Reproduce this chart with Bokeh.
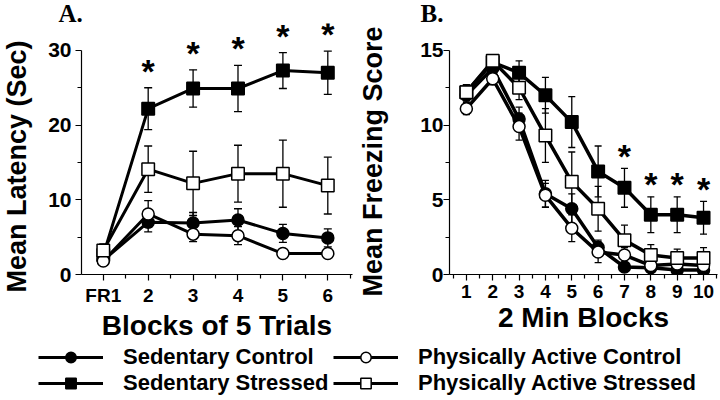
from bokeh.plotting import figure
from bokeh.models import (ColumnDataSource, Whisker, TeeHead, FixedTicker, Title,
                          Legend, LegendItem, Range1d)
from bokeh.layouts import column, row
from bokeh.embed import file_html
from bokeh.resources import INLINE
from bokeh.core.properties import value

# ---------------- data ----------------
# Panel A: Mean latency (sec) per block of 5 trials
A_x = [1, 2, 3, 4, 5, 6]
A_tick_labels = ["FR1", "2", "3", "4", "5", "6"]
A_sed_ctrl = [1.9, 7.0, 6.9, 7.3, 5.5, 4.9]
A_sed_ctrl_err = [0.3, 1.3, 1.4, 1.5, 1.2, 1.2]
A_act_ctrl = [1.8, 8.1, 5.4, 5.2, 2.8, 2.8]
A_act_ctrl_err = [0.3, 1.8, 1.0, 1.2, 0.3, 0.3]
A_sed_str = [2.6, 22.2, 24.9, 24.9, 27.3, 27.0]
A_sed_str_err = [0.5, 2.8, 2.5, 3.1, 2.4, 2.9]
A_act_str = [3.2, 14.1, 12.2, 13.5, 13.5, 11.9]
A_act_str_err = [0.9, 3.1, 4.3, 3.8, 4.5, 3.8]
A_star_x = [2, 3, 4, 5, 6]

# Panel B: Mean freezing score per 2 min block
B_x = [1, 2, 3, 4, 5, 6, 7, 8, 9, 10]
B_sed_ctrl = [12.0, 13.8, 10.4, 5.4, 4.4, 1.8, 0.5, 0.45, 0.3, 0.3]
B_sed_ctrl_err = [0.4, 0.4, 0.8, 0.9, 1.0, 0.5, 0.3, 0.3, 0.2, 0.2]
B_act_ctrl = [11.1, 13.1, 9.9, 5.3, 3.1, 1.5, 1.3, 0.6, 0.7, 0.6]
B_act_ctrl_err = [0.4, 0.4, 0.9, 0.8, 0.9, 0.7, 0.5, 0.3, 0.3, 0.3]
B_sed_str = [12.2, 14.2, 13.5, 12.0, 10.2, 6.9, 5.8, 4.0, 4.0, 3.8]
B_sed_str_err = [0.5, 0.4, 0.8, 1.2, 1.7, 1.7, 1.3, 1.2, 1.2, 1.1]
B_act_str = [12.2, 14.3, 12.5, 9.3, 6.2, 4.4, 2.3, 1.3, 1.1, 1.1]
B_act_str_err = [0.5, 0.4, 0.8, 1.8, 2.0, 1.5, 1.0, 0.7, 0.6, 0.7]
B_star_x = [7, 8, 9, 10]

SERIES_NAMES = ["Sedentary Control", "Sedentary Stressed",
                "Physically Active Control", "Physically Active Stressed"]

FONT = "Liberation Sans"
FIG_H = 343
TOP = 22
FRAME_H = 252
BOTTOM = FIG_H - TOP - FRAME_H
A_PPU = 7.5
B_PPU = 15.0

# ---------------- helpers ----------------
def style_axes(p, xlabel, xt, xminor, yt, yminor, ybounds, ystandoff_lab, ygap,
               xstandoff_lab, xstandoff_title):
    p.grid.visible = False
    p.outline_line_color = None
    p.background_fill_color = "white"
    p.border_fill_color = "white"
    for ax in (p.xaxis[0], p.yaxis[0]):
        ax.axis_line_color = "black"
        ax.axis_line_width = 1.2
        ax.major_tick_line_color = "black"
        ax.minor_tick_line_color = "black"
        ax.major_tick_line_width = 1.2
        ax.minor_tick_line_width = 1.2
        ax.major_tick_in = 0
        ax.major_tick_out = 6
        ax.minor_tick_in = 0
        ax.minor_tick_out = 4
        ax.major_label_text_font = FONT
        ax.major_label_text_font_style = "bold"
        ax.major_label_text_color = "black"
        ax.axis_label_text_font = FONT
        ax.axis_label_text_font_style = "bold"
        ax.axis_label_text_color = "black"
    p.xaxis.ticker = FixedTicker(ticks=xt, minor_ticks=xminor)
    p.yaxis.ticker = FixedTicker(ticks=yt, minor_ticks=yminor)
    p.yaxis.bounds = ybounds
    p.xaxis.axis_label = xlabel
    p.xaxis.axis_label_text_font_size = "28px"
    p.xaxis.major_label_text_font_size = "19px"
    p.yaxis.major_label_text_font_size = "21px"
    p.yaxis.major_label_standoff = ystandoff_lab
    # blank spacer between tick labels and the rotated y title
    p.yaxis.axis_label = " "
    p.yaxis.axis_label_text_font_size = "1px"
    p.yaxis.axis_label_standoff = ygap
    p.xaxis.major_label_standoff = xstandoff_lab
    p.xaxis.axis_label_standoff = xstandoff_title


def add_series(p, x, means, errs, cap):
    lo = [m - e for m, e in zip(means, errs)]
    hi = [m + e for m, e in zip(means, errs)]
    src = ColumnDataSource(dict(x=x, lo=lo, hi=hi))
    w = Whisker(source=src, base="x", lower="lo", upper="hi",
                line_color="black", line_width=1.3,
                upper_head=TeeHead(size=cap, line_color="black", line_width=1.3),
                lower_head=TeeHead(size=cap, line_color="black", line_width=1.3))
    p.add_layout(w)


def draw_panel(p, x, series, lw, cap):
    for means, errs, *_ in series:
        add_series(p, x, means, errs, cap)
    for means, errs, *_ in series:
        p.line(x, means, line_color="black", line_width=lw)
    for means, errs, marker, fill, size in series:
        p.scatter(x, means, marker=marker, size=size, fill_color=fill,
                  line_color="black", line_width=1.5)


def panel_title(text, offset):
    return Title(text=text, align="left", offset=offset, standoff=-6,
                 text_font="Liberation Serif", text_font_style="bold",
                 text_font_size="25px", text_color="black")


def y_title(text, offset, standoff):
    return Title(text=text, align="left", vertical_align="bottom", offset=offset,
                 standoff=standoff, text_font=FONT, text_font_style="bold",
                 text_font_size="27px", text_color="black")


def add_stars(p, xs, xall, means, errs, ppu, px):
    ys = [means[xall.index(s)] + errs[xall.index(s)] + px / ppu for s in xs]
    p.text(xs, ys, text=["*"] * len(xs), text_font=value(FONT),
           text_font_style="bold", text_font_size="34px", text_align="center",
           text_baseline="alphabetic", text_color="black")


# ---------------- panel A ----------------
pA = figure(width=355, height=FIG_H, x_range=Range1d(0.515, 6.55),
            y_range=Range1d(0, FRAME_H / A_PPU),
            toolbar_location=None, output_backend="svg",
            min_border_left=78, min_border_right=3, min_border_top=TOP, min_border_bottom=BOTTOM)
pA.title = panel_title("A.", -23)
style_axes(pA, "Blocks of 5 Trials", A_x, [1.5, 2.5, 3.5, 4.5, 5.5, 6.5],
           [0, 10, 20, 30], [5, 15, 25], (0, 30), 4, 11, 4, 1)
pA.xaxis.major_label_overrides = {x: t for x, t in zip(A_x, A_tick_labels)}
pA.add_layout(y_title("Mean Latency (Sec)", -18, -2), "left")

draw_panel(pA, A_x, [
    (A_sed_ctrl, A_sed_ctrl_err, "circle", "black", 12),
    (A_sed_str, A_sed_str_err, "square", "black", 12.5),
    (A_act_ctrl, A_act_ctrl_err, "circle", "white", 12),
    (A_act_str, A_act_str_err, "square", "white", 12.5),
], 3, 8)
add_stars(pA, A_star_x, A_x, A_sed_str, A_sed_str_err, A_PPU, 17.0)

# ---------------- panel B ----------------
pB = figure(width=365, height=FIG_H, x_range=Range1d(0.36, 10.53),
            y_range=Range1d(0, FRAME_H / B_PPU),
            toolbar_location=None, output_backend="svg",
            min_border_left=92, min_border_right=3, min_border_top=TOP, min_border_bottom=BOTTOM)
pB.title = panel_title("B.", -29)
style_axes(pB, "2 Min Blocks", B_x, [v + 0.5 for v in [0] + B_x],
           [0, 5, 10, 15], [2.5, 7.5, 12.5], (0, 15), 0, 26, 4, 1)
pB.add_layout(y_title("Mean Freezing Score", -22, 0), "left")

draw_panel(pB, B_x, [
    (B_sed_ctrl, B_sed_ctrl_err, "circle", "black", 12),
    (B_sed_str, B_sed_str_err, "square", "black", 12.5),
    (B_act_ctrl, B_act_ctrl_err, "circle", "white", 12),
    (B_act_str, B_act_str_err, "square", "white", 12.5),
], 3.5, 7)
add_stars(pB, B_star_x, B_x, B_sed_str, B_sed_str_err, B_PPU, 12.5)

# ---------------- legend strip ----------------
LEG_H = 400 - FIG_H
pL = figure(width=720, height=LEG_H, x_range=Range1d(0, 1), y_range=Range1d(0, 1),
            toolbar_location=None, output_backend="svg",
            x_axis_location=None, y_axis_location=None, min_border=0)
pL.grid.visible = False
pL.outline_line_color = None

nan = float("nan")
styles = [("circle", "black"), ("square", "black"), ("circle", "white"), ("square", "white")]
items = []
for name, (marker, fill) in zip(SERIES_NAMES, styles):
    rl = pL.line(x=[nan], y=[nan], line_color="black", line_width=3)
    rs = pL.scatter(x=[nan], y=[nan], marker=marker, fill_color=fill, line_color="black",
                    line_width=1.5, size=12)
    items.append(LegendItem(label=name, renderers=[rl, rs]))

leg_kw = dict(orientation="vertical", glyph_width=65, glyph_height=26, spacing=0,
              label_standoff=20, padding=0, margin=0, border_line_color=None,
              background_fill_alpha=0, label_text_font=FONT, label_text_font_style="bold",
              label_text_font_size="22px", label_text_color="black", label_height=26)
pL.add_layout(Legend(items=items[:2], location=(38, 4), **leg_kw))
pL.add_layout(Legend(items=items[2:], location=(333, 4), **leg_kw))

layout = column(row(pA, pB), pL)
open("out.html", "w").write(file_html(layout, INLINE))
